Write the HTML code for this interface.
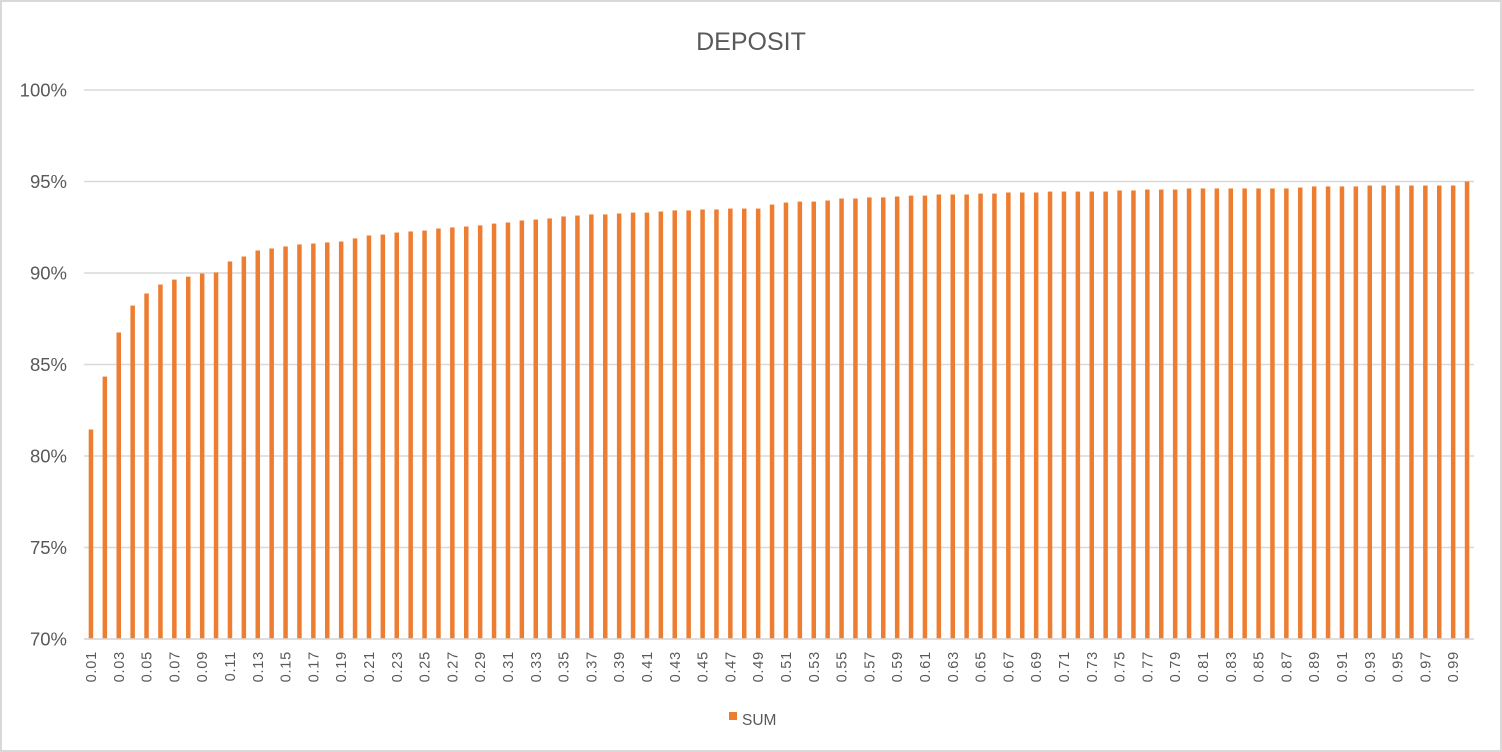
<!DOCTYPE html>
<html><head><meta charset="utf-8"><title>DEPOSIT</title>
<style>
html,body{margin:0;padding:0;background:#fff;}
svg{display:block;font-family:"Liberation Sans",sans-serif;}
</style></head>
<body>
<svg id="chart" width="1502" height="752" viewBox="0 0 1502 752" xmlns="http://www.w3.org/2000/svg">
<rect x="1" y="1" width="1500" height="750" fill="#fff" stroke="#d9d9d9" stroke-width="2"/>
<text x="751" y="50" text-anchor="middle" font-size="25" fill="#595959">DEPOSIT</text>
<g id="grid"></g>
<g id="yaxis"></g>
<g id="bars"></g>
<g id="xaxis"></g>
<g>
<rect x="729" y="712" width="8" height="8" fill="#ed7d31"/>
<text x="742" y="725" font-size="15.5" fill="#595959">SUM</text>
</g>
</svg>
<script>
const values = [81.45,84.34,86.75,88.22,88.88,89.37,89.64,89.8,89.97,90.03,
90.63,90.9,91.23,91.34,91.45,91.56,91.61,91.67,91.72,91.89,
92.05,92.1,92.21,92.27,92.32,92.43,92.49,92.54,92.6,92.7,
92.76,92.87,92.92,92.98,93.09,93.14,93.2,93.2,93.25,93.3,
93.3,93.36,93.42,93.42,93.47,93.47,93.52,93.52,93.52,93.74,
93.85,93.9,93.9,93.96,94.07,94.07,94.13,94.13,94.18,94.23,
94.23,94.29,94.29,94.29,94.34,94.34,94.4,94.4,94.4,94.45,
94.45,94.45,94.45,94.45,94.51,94.51,94.56,94.56,94.56,94.62,
94.62,94.62,94.62,94.62,94.62,94.62,94.62,94.67,94.73,94.73,
94.73,94.73,94.78,94.78,94.78,94.78,94.78,94.78,94.78,95.0];
const categories = values.map((v,i)=>((i+1)/100).toFixed(2));
const yTicks = [70,75,80,85,90,95,100];
const yTickLabels = ["70%","75%","80%","85%","90%","95%","100%"];

const NS="http://www.w3.org/2000/svg";
const X0=84, X1=1474, Y0=639, Y1=90, VMIN=70, VMAX=100;
const band=(X1-X0)/categories.length;
const xScale=i=>X0+band*(i+0.5);
const yScale=v=>Y0-(v-VMIN)/(VMAX-VMIN)*(Y0-Y1);
function mk(tag,attrs,parent){const e=document.createElementNS(NS,tag);for(const k in attrs)e.setAttribute(k,attrs[k]);parent.appendChild(e);return e;}

const grid=document.getElementById('grid'), yaxis=document.getElementById('yaxis');
yTicks.forEach((t,i)=>{
  const y=yScale(t);
  const l=mk('line',{x1:X0,x2:X1,y1:y,y2:y,stroke:'#d9d9d9','stroke-width':1.5},grid);
  
  
  const tx=mk('text',{x:67,y:y+6.5,'text-anchor':'end','font-size':18.5,fill:'#595959'},yaxis);
  tx.textContent=yTickLabels[i];
  
  
});

const bars=document.getElementById('bars');
const bw=4.5;
values.forEach((v,i)=>{
  const y=yScale(v);
  const r=mk('rect',{x:xScale(i)-bw/2,y:y,width:bw,height:Y0-y,fill:'#ed7d31'},bars);
  
  
});

const xaxis=document.getElementById('xaxis');
const ax=mk('line',{x1:X0,x2:X1,y1:Y0,y2:Y0,stroke:'#d9d9d9','stroke-width':1.5},xaxis);


categories.forEach((c,i)=>{
  if(i%2!==0)return;
  const x=xScale(i)+5, y=651;
  const t=mk('text',{x:x,y:y,'text-anchor':'end','font-size':14.5,'letter-spacing':'0.8',fill:'#595959',transform:`rotate(-90 ${x} ${y})`},xaxis);
  t.textContent=c;
  
  
});
</script>
</body></html>
